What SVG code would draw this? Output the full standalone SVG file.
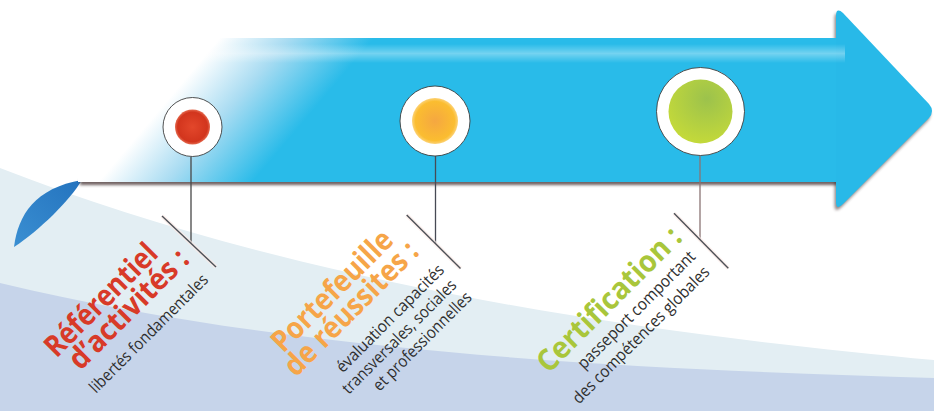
<svg xmlns="http://www.w3.org/2000/svg" width="934" height="411" viewBox="0 0 934 411">
  <defs>
    <style>
      .title { font-family: "Open Sans", "Liberation Sans", sans-serif; font-weight: 700; font-size: 30px; }
      .sub { font-family: "Open Sans", "Liberation Sans", sans-serif; font-weight: 400; font-size: 16.5px; fill: #2e2e2e; }
      .red { fill: #d83a28; }
      .orange { fill: #f6a548; }
      .green { fill: #a9c63b; }
      .ring { fill: #ffffff; stroke: #3e3e3e; stroke-width: 0.9; }
      .stem { fill: none; stroke-width: 1.3; }
      .slash { fill: none; stroke: #4d5157; stroke-width: 1.4; }
      .halo { fill: none; stroke: #fbe9e6; stroke-width: 4; stroke-opacity: 0.7; }
    </style>
    <linearGradient id="bodyGrad" gradientUnits="userSpaceOnUse" x1="160" y1="109" x2="250" y2="185">
      <stop offset="0" stop-color="#ffffff"/>
      <stop offset="0.45" stop-color="#a9dcf2"/>
      <stop offset="1" stop-color="#29bbe9"/>
    </linearGradient>
    <linearGradient id="hiV" x1="0" y1="0" x2="0" y2="1">
      <stop offset="0" stop-color="#ffffff" stop-opacity="0"/>
      <stop offset="0.5" stop-color="#ffffff" stop-opacity="0.35"/>
      <stop offset="1" stop-color="#ffffff" stop-opacity="0"/>
    </linearGradient>
    <linearGradient id="swoosh" x1="0" y1="1" x2="1" y2="0">
      <stop offset="0" stop-color="#3a8fd2"/>
      <stop offset="1" stop-color="#2473be"/>
    </linearGradient>
    <radialGradient id="gRed" cx="0.5" cy="0.5" r="0.5">
      <stop offset="0" stop-color="#e3472b"/>
      <stop offset="0.85" stop-color="#d2351d"/>
      <stop offset="1" stop-color="#e46a4f"/>
    </radialGradient>
    <radialGradient id="gOrange" cx="0.5" cy="0.5" r="0.5">
      <stop offset="0" stop-color="#f5a741"/>
      <stop offset="0.85" stop-color="#fbbd30"/>
      <stop offset="1" stop-color="#fcd276"/>
    </radialGradient>
    <radialGradient id="gGreen" cx="0.6" cy="0.3" r="0.7">
      <stop offset="0" stop-color="#9cc24c"/>
      <stop offset="1" stop-color="#c3d93a"/>
    </radialGradient>
    <filter id="blur" x="-10%" y="-50%" width="120%" height="200%">
      <feGaussianBlur stdDeviation="1.4"/>
    </filter>
  </defs>

  <!-- background -->
  <rect x="0" y="0" width="934" height="411" fill="#ffffff"/>
  <path d="M0,168 C300,285 650,334 934,360 L934,411 L0,411 Z" fill="#e3eef3"/>
  <path d="M0,283 C300,355 650,369.5 934,378 L934,411 L0,411 Z" fill="#c6d4ea"/>
  <path d="M14,247 C18,215 35,188 82,180 C70,200 40,230 14,247 Z" fill="url(#swoosh)"/>

  <!-- arrow -->
  <g id="arrow">
    <rect x="80" y="179.5" width="758" height="5.5" fill="#4a3838" opacity="0.8" filter="url(#blur)"/>
    <path transform="translate(-1.5,3)" fill="#3a2a2a" opacity="0.55" filter="url(#blur)" d="M836,16 Q836,7 843,13 L929,104 Q935,111 929,118 L843,204 Q836,211 836,202 Z"/>
    <path fill="url(#bodyGrad)" d="M78,38 L838,38 L838,182 L78,182 Z"/>
    <path fill="#28b9e8" d="M836,16 Q836,7 843,13 L929,104 Q935,111 929,118 L843,204 Q836,211 836,202 Z"/>
    <rect x="200" y="44" width="645" height="19" fill="url(#hiV)"/>
  </g>

  <!-- connectors -->
  <g id="connectors">
    <line class="stem" x1="191" y1="157" x2="191" y2="243" stroke="#474747"/>
    <line class="stem" x1="435.5" y1="156" x2="435.5" y2="244" stroke="#474a55"/>
    <line class="stem" x1="700" y1="156" x2="700" y2="240" stroke="#8a7474"/>
    <line class="halo" x1="162" y1="216" x2="216" y2="267"/>
    <line class="slash" x1="162" y1="216" x2="216" y2="267"/>
    <line class="halo" x1="406.7" y1="215" x2="460.5" y2="268.5"/>
    <line class="slash" x1="406.7" y1="215" x2="460.5" y2="268.5"/>
    <line class="halo" x1="674" y1="213.3" x2="728.3" y2="268.3"/>
    <line class="slash" x1="674" y1="213.3" x2="728.3" y2="268.3"/>
  </g>

  <!-- node 1 -->
  <g id="node-referentiel">
    <circle class="ring" cx="192.5" cy="127" r="29.5"/>
    <circle cx="192.5" cy="127" r="17.5" fill="url(#gRed)"/>
    <g transform="translate(96,394) rotate(-45)">
      <text class="title red" x="-3" y="-53" textLength="146" lengthAdjust="spacingAndGlyphs">Référentiel</text>
      <text class="title red" x="5" y="-27" textLength="156" lengthAdjust="spacingAndGlyphs">d’activités :</text>
      <text class="sub" x="0" y="0" textLength="160" lengthAdjust="spacingAndGlyphs">libertés fondamentales</text>
    </g>
  </g>

  <!-- node 2 -->
  <g id="node-portefeuille">
    <circle class="ring" cx="435" cy="121" r="35"/>
    <circle cx="435" cy="121" r="23" fill="url(#gOrange)"/>
    <g transform="translate(342.7,373.5) rotate(-45)">
      <text class="title orange" x="-28" y="-56" textLength="158" lengthAdjust="spacingAndGlyphs">Portefeuille</text>
      <text class="title orange" x="-36" y="-30" textLength="176" lengthAdjust="spacingAndGlyphs">de réussites :</text>
      <text class="sub" x="0" y="0" textLength="145" lengthAdjust="spacingAndGlyphs">évaluation capacités</text>
      <text class="sub" x="-11" y="19.5" textLength="154" lengthAdjust="spacingAndGlyphs">transversales, sociales</text>
      <text class="sub" x="13" y="39" textLength="132" lengthAdjust="spacingAndGlyphs">et professionnelles</text>
    </g>
  </g>

  <!-- node 3 -->
  <g id="node-certification">
    <circle class="ring" cx="700.5" cy="111.5" r="44"/>
    <circle cx="700.5" cy="111.5" r="32" fill="url(#gGreen)"/>
    <g transform="translate(584,370) rotate(-45)">
      <text class="title green" x="-28" y="-22" textLength="191" lengthAdjust="spacingAndGlyphs">Certification :</text>
      <text class="sub" x="0" y="0" textLength="159" lengthAdjust="spacingAndGlyphs">passeport comportant</text>
      <text class="sub" x="-28" y="21" textLength="186" lengthAdjust="spacingAndGlyphs">des compétences globales</text>
    </g>
  </g>
</svg>
